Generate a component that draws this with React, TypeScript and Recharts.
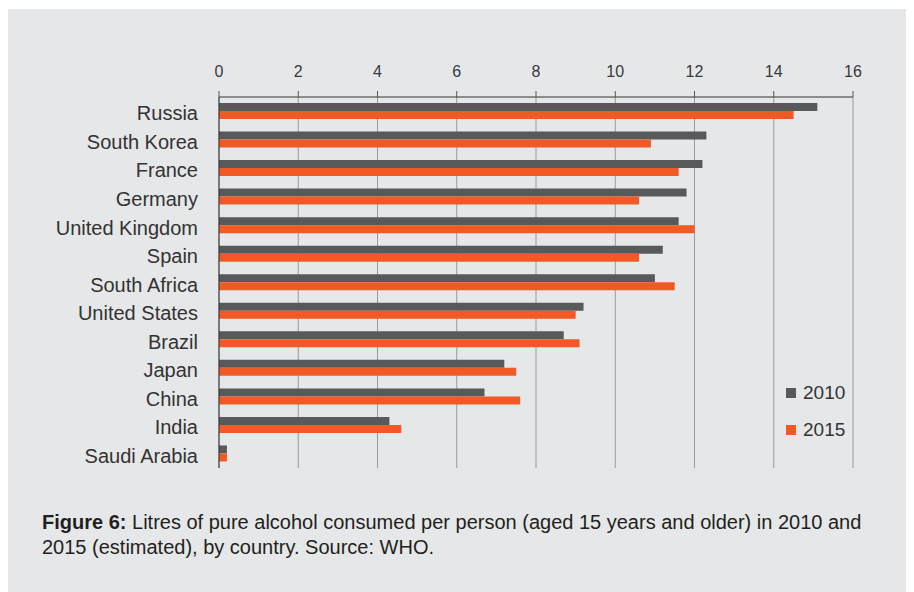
import React from "react";
import { BarChart, Bar, XAxis, YAxis, CartesianGrid, Legend } from "recharts";

const countries = [
  "Russia",
  "South Korea",
  "France",
  "Germany",
  "United Kingdom",
  "Spain",
  "South Africa",
  "United States",
  "Brazil",
  "Japan",
  "China",
  "India",
  "Saudi Arabia",
];
const litres2010 = [15.1, 12.3, 12.2, 11.8, 11.6, 11.2, 11.0, 9.2, 8.7, 7.2, 6.7, 4.3, 0.2];
const litres2015 = [14.5, 10.9, 11.6, 10.6, 12.0, 10.6, 11.5, 9.0, 9.1, 7.5, 7.6, 4.6, 0.2];
const xTicks = [0, 2, 4, 6, 8, 10, 12, 14, 16];
const seriesNames = ["2010", "2015"];

const DARK = "#58595b";
const ORANGE = "#f15a24";
const FONT = "'Liberation Sans', Arial, sans-serif";

const data = countries.map((country, i) => ({
  country,
  y2010: litres2010[i],
  y2015: litres2015[i],
}));

// legend sits inside the plot, bottom right
const LegendBox = () => (
  <div style={{ fontFamily: FONT, width: 80 }}>
    {seriesNames.map((name, i) => (
      <div
        key={name}
        style={{ display: "flex", alignItems: "center", height: 37, fontSize: 19, color: "#333" }}
      >
        <span
          style={{
            width: 10,
            height: 10,
            flexShrink: 0,
            background: i === 0 ? DARK : ORANGE,
            display: "inline-block",
            marginRight: 7,
          }}
        />
        {name}
      </div>
    ))}
  </div>
);

export default function App() {
  return (
    <div
      style={{
        position: "relative",
        width: 906,
        height: 583,
        marginTop: 1,
        background: "#e6e7e8",
        fontFamily: FONT,
      }}
    >
      <BarChart
        width={906}
        height={471}
        data={data}
        layout="vertical"
        margin={{ top: 40, right: 61, bottom: 12, left: 0 }}
        barGap={0}
      >
        <CartesianGrid horizontal={false} stroke="#999" />
        <XAxis
          type="number"
          orientation="top"
          domain={[0, 16]}
          ticks={xTicks}
          height={48}
          tickSize={6}
          tickMargin={14}
          axisLine={{ stroke: "#333" }}
          tickLine={{ stroke: "#555" }}
          tick={{ fill: "#3a3a3a", fontSize: 16 }}
        />
        <YAxis
          type="category"
          dataKey="country"
          width={211}
          interval={0}
          tickSize={0}
          tickMargin={21}
          axisLine={{ stroke: "#333" }}
          tickLine={false}
          tick={{ fill: "#333", fontSize: 20, dy: 2 }}
        />
        <Legend
          content={<LegendBox />}
          wrapperStyle={{ position: "absolute", left: 778, top: 365, width: 80, height: 0, overflow: "visible" }}
        />
        <Bar dataKey="y2010" name="2010" fill={DARK} barSize={8} isAnimationActive={false} />
        <Bar dataKey="y2015" name="2015" fill={ORANGE} barSize={8} isAnimationActive={false} />
      </BarChart>
      <div
        style={{
          position: "absolute",
          left: 34,
          top: 501,
          fontSize: 20,
          lineHeight: "25px",
          color: "#231f20",
          whiteSpace: "nowrap",
        }}
      >
        <b>Figure 6:</b> Litres of pure alcohol consumed per person (aged 15 years and older) in 2010 and
        <br />
        2015 (estimated), by country. Source: WHO.
      </div>
    </div>
  );
}
